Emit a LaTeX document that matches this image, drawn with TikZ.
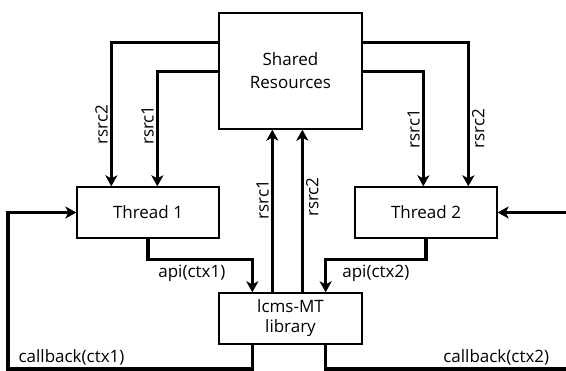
\documentclass[tikz,border=0pt]{standalone}
\usepackage{fontspec}
\setmainfont{Open Sans}
\usepackage{tikz}
\usetikzlibrary{arrows.meta, positioning, calc}

\begin{document}
\begin{tikzpicture}[x=1pt, y=-1pt,
    box/.style={draw, line width=1.3pt, minimum width=143pt, minimum height=51pt,
        inner sep=0pt, align=center, font=\fontsize{17}{20}\selectfont},
    wire/.style={line width=3.2pt},
    flow/.style={wire, -{Stealth[length=11pt,width=12pt,inset=3pt]}},
    lbl/.style={font=\fontsize{17}{20}\selectfont, inner sep=2pt}]

    \useasboundingbox (0,0) rectangle (566,371);

    % Boxes
    \node[box, minimum height=116pt, font=\fontsize{17}{23}\selectfont] (shared) at (290.5,71) {Shared\\Resources};
    \node[box, minimum width=142pt] (thread1) at (148,212.5) {Thread 1};
    \node[box, minimum width=142pt] (thread2) at (426,212.5) {Thread 2};
    \node[box] (library) at (290.5,318.5) {lcms-MT\\library};

    % Free ends of the callback loops
    \coordinate (cb1) at (8,369);
    \coordinate (cb2) at (566,369);
    \coordinate (in2) at (566,212.5);

    % Resources handed to the threads
    \draw[flow] ([yshift=-30pt]shared.north west) -| node[lbl, pos=0.786, rotate=90, anchor=south] {rsrc2} ([xshift=35pt]thread1.north west);
    \draw[flow] ([yshift=-59pt]shared.north west) -| node[lbl, pos=0.734, rotate=90, anchor=south] {rsrc1} ([xshift=81pt]thread1.north west);
    \draw[flow] ([yshift=-59pt]shared.north east) -| node[lbl, pos=0.748, rotate=90, anchor=south] {rsrc1} ([xshift=69pt]thread2.north west);
    \draw[flow] ([yshift=-30pt]shared.north east) -| node[lbl, pos=0.8, rotate=90, anchor=north] {rsrc2} ([xshift=114pt]thread2.north west);

    % Resources used by the library
    \draw[flow] ([xshift=54pt]library.north west) -- node[lbl, pos=0.57, rotate=90, anchor=south] {rsrc1} ([xshift=54pt]shared.south west);
    \draw[flow] ([xshift=84pt]library.north west) -- node[lbl, pos=0.585, rotate=90, anchor=north] {rsrc2} ([xshift=84pt]shared.south west);

    % API calls
    \draw[flow] (thread1.south) -- ++(0,21) -| node[lbl, pos=0.21, below=2pt] {api(ctx1)} ([xshift=34pt]library.north west);
    \draw[flow] (thread2.south) -- ++(0,21) -| node[lbl, pos=0.25, below=2pt] {api(ctx2)} ([xshift=-37pt]library.north east);

    % Callbacks
    \draw[flow] ([xshift=34pt]library.south west) |- node[lbl, pos=0.87, above] {callback(ctx1)} (cb1) |- (thread1.west);
    \draw[wire] ([xshift=-37pt]library.south east) |- node[lbl, pos=0.855, above] {callback(ctx2)} (cb2);
    \draw[flow] (in2) -- (thread2.east);
\end{tikzpicture}
\end{document}
